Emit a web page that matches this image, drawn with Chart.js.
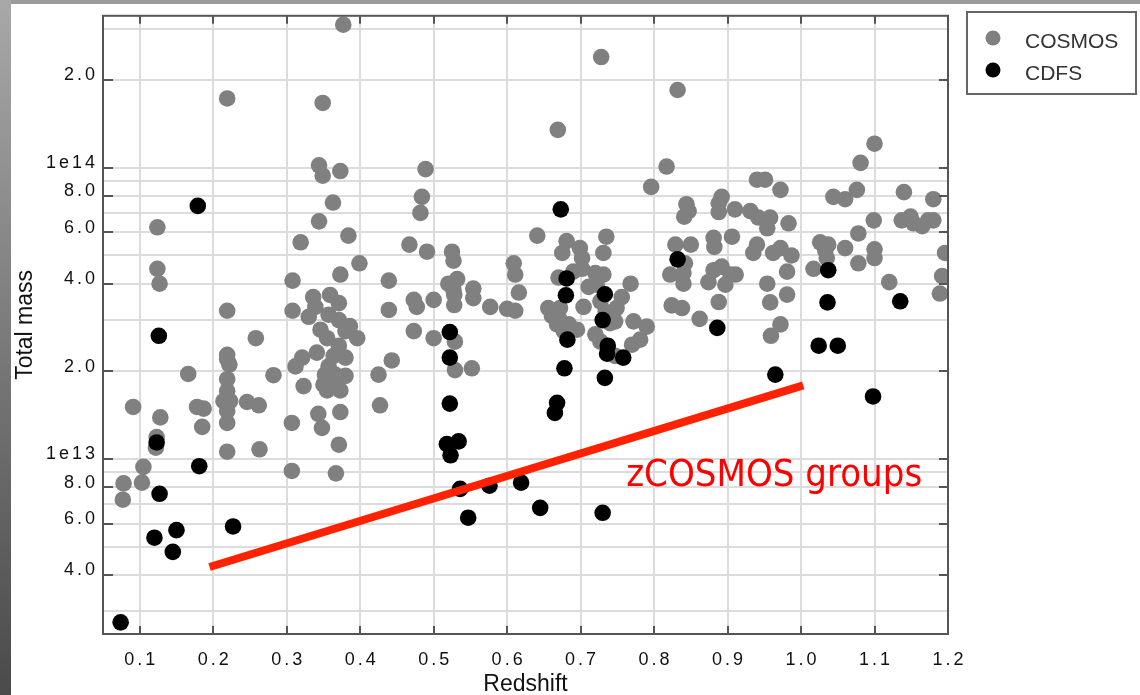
<!DOCTYPE html>
<html><head><meta charset="utf-8">
<script src="https://cdn.jsdelivr.net/npm/chart.js@4/dist/chart.umd.min.js"></script>
<style>html,body{margin:0;padding:0;background:#fff;overflow:hidden}canvas{display:block}</style>
</head><body>
<canvas id="c" width="1140" height="695"></canvas>
<script>
// ---- data (redshift, total mass) ----
const cosmosZ = [0.219,0.124,0.377,0.728,0.349,0.669,0.344,0.349,0.373,0.489,0.363,0.484,0.482,0.344,0.384,0.319,0.467,0.641,0.681,0.735,
0.832,1.100,1.081,0.817,0.796,0.940,0.951,0.972,0.844,0.847,0.841,0.892,0.888,0.888,0.910,0.931,0.942,0.958,0.954,0.983,
1.044,1.060,1.076,1.140,1.180,1.099,1.137,1.149,1.153,1.165,1.173,1.180,1.078,1.060,1.100,1.100,1.078,1.196,1.120,1.192,
1.189,0.829,0.850,0.881,0.882,0.906,0.940,0.731,0.731,0.756,0.747,0.772,0.790,0.781,0.770,0.768,0.842,0.822,0.840,0.840,
0.824,0.838,0.862,0.874,0.881,0.892,0.904,0.897,0.888,0.911,0.935,0.962,0.972,0.987,0.981,0.954,0.981,0.958,0.972,0.959,
1.026,1.033,1.017,1.035,1.037,0.491,0.525,0.527,0.675,0.699,0.702,0.399,0.373,0.308,0.439,0.520,0.532,0.527,0.554,0.554,
0.609,0.611,0.616,0.577,0.600,0.611,0.500,0.473,0.477,0.439,0.528,0.528,0.308,0.336,0.359,0.371,0.339,0.330,0.357,0.371,
0.386,0.396,0.380,0.346,0.355,0.371,0.380,0.364,0.341,0.321,0.312,0.357,0.352,0.366,0.380,0.350,0.368,0.355,0.373,0.323,
0.425,0.443,0.473,0.500,0.529,0.529,0.552,0.307,0.343,0.348,0.373,0.427,0.371,0.670,0.656,0.672,0.661,0.672,0.684,0.695,
0.677,0.668,0.704,0.711,0.690,0.702,0.720,0.722,0.727,0.734,0.740,0.749,0.727,0.720,0.747,0.124,0.127,0.219,0.258,0.219,
0.219,0.222,0.166,0.282,0.219,0.219,0.214,0.223,0.219,0.219,0.178,0.187,0.246,0.262,0.091,0.128,0.185,0.123,0.122,0.219,
0.263,0.105,0.307,0.078,0.077,0.103,0.367];
const cosmosMass = [1.73e14,6.25e13,3.1e14,2.4e14,1.67e14,1.35e14,1.02e14,9.4e13,9.75e13,9.9e13,7.6e13,7.95e13,7.0e13,6.55e13,5.85e13,5.55e13,5.45e13,5.85e13,5.6e13,5.8e13,
1.85e14,1.21e14,1.04e14,1.01e14,8.6e13,9.1e13,9.1e13,8.4e13,7.5e13,7.1e13,6.8e13,7.95e13,7.55e13,7.05e13,7.2e13,7.1e13,6.75e13,6.75e13,6.2e13,6.45e13,
7.95e13,7.8e13,8.4e13,8.25e13,7.8e13,6.6e13,6.6e13,6.8e13,6.45e13,6.3e13,6.6e13,6.6e13,5.95e13,5.3e13,5.25e13,4.9e13,4.7e13,5.1e13,4.05e13,4.25e13,
3.7e13,5.45e13,5.45e13,5.75e13,5.35e13,5.8e13,5.45e13,5.1e13,4.3e13,3.6e13,2.97e13,2.97e13,2.85e13,2.57e13,2.47e13,4.0e13,4.7e13,4.3e13,4.35e13,4.0e13,
3.37e13,3.3e13,3.03e13,4.05e13,4.45e13,4.58e13,4.3e13,3.97e13,3.46e13,4.3e13,5.1e13,5.1e13,5.3e13,5.0e13,4.4e13,4.0e13,3.67e13,3.45e13,2.9e13,2.65e13,
5.55e13,5.2e13,4.5e13,4.9e13,5.45e13,5.15e13,5.15e13,4.8e13,5.1e13,5.3e13,4.9e13,4.7e13,4.3e13,4.1e13,4.1e13,4.0e13,4.15e13,3.8e13,3.85e13,3.57e13,
4.7e13,4.3e13,3.73e13,3.33e13,3.28e13,3.23e13,3.52e13,3.52e13,3.33e13,3.25e13,3.66e13,3.38e13,3.23e13,3.6e13,3.66e13,3.43e13,3.33e13,3.08e13,3.13e13,3.0e13,
2.86e13,2.6e13,2.75e13,2.78e13,2.6e13,2.45e13,2.23e13,2.26e13,2.32e13,2.23e13,2.08e13,2.08e13,1.95e13,1.95e13,1.93e13,1.8e13,1.8e13,1.72e13,1.72e13,1.78e13,
1.95e13,2.18e13,2.75e13,2.6e13,2.53e13,2.02e13,2.05e13,1.33e13,1.43e13,1.28e13,1.45e13,1.53e13,1.12e13,4.2e13,3.3e13,3.3e13,3.1e13,3.0e13,2.9e13,2.78e13,
2.75e13,2.9e13,3.33e13,3.9e13,4.4e13,4.5e13,4.35e13,3.97e13,3.48e13,3.2e13,2.93e13,3.3e13,2.53e13,2.68e13,2.26e13,4.5e13,4.0e13,3.23e13,2.6e13,2.28e13,
2.2e13,2.11e13,1.96e13,1.94e13,1.88e13,1.71e13,1.58e13,1.58e13,1.46e13,1.33e13,1.51e13,1.49e13,1.57e13,1.53e13,1.51e13,1.39e13,1.29e13,1.19e13,1.095e13,1.06e13,
1.08e13,9.4e12,9.1e12,8.25e12,7.25e12,8.3e12,8.93e12];

const cdfsZ = [0.179,0.673,0.733,0.730,0.737,0.736,0.758,0.733,0.832,0.886,0.965,1.037,1.036,1.135,1.024,1.050,1.098,0.126,0.123,0.181,
0.127,0.120,0.150,0.145,0.227,0.074,0.522,0.522,0.522,0.518,0.534,0.523,0.681,0.680,0.682,0.678,0.668,0.665,0.536,0.576,
0.619,0.547,0.645,0.730];
const cdfsMass = [7.4e13,7.2e13,3.68e13,3.0e13,2.45e13,2.3e13,2.23e13,1.9e13,4.85e13,2.82e13,1.95e13,4.45e13,3.45e13,3.48e13,2.45e13,2.45e13,1.64e13,2.65e13,1.14e13,9.45e12,
7.6e12,5.37e12,5.7e12,4.8e12,5.87e12,2.75e12,2.73e13,2.23e13,1.55e13,1.125e13,1.15e13,1.03e13,4.17e13,3.65e13,2.57e13,2.05e13,1.56e13,1.44e13,7.9e12,8.1e12,
8.3e12,6.29e12,6.8e12,6.54e12];

// hand-drawn "zCOSMOS groups" line (end points) and label anchor
const groupLineZ = [0.195, 1.003];
const groupLineMass = [4.26e12, 1.79e13];
const groupLabel = 'zCOSMOS groups';
const groupLabelAt = [0.762, 8.1e12];

// axes
const xTickValues = [0.1,0.2,0.3,0.4,0.5,0.6,0.7,0.8,0.9,1.0,1.1,1.2];
const yTickValues = [3e12,4e12,5e12,6e12,7e12,8e12,9e12,1e13,2e13,3e13,4e13,5e13,6e13,7e13,8e13,9e13,1e14,2e14,3e14];
const yTickLabels = ['','4.0','','6.0','','8.0','','1e13','2.0','','4.0','','6.0','','8.0','','1e14','2.0',''];
const xTitle = 'Redshift';
const yTitle = 'Total mass';

const FRAME = '#555555';
const deco = {
  id: 'deco',
  beforeDraw(chart) {
    const ctx = chart.ctx;
    ctx.save();
    const g = ctx.createLinearGradient(0, 0, 0, chart.height);
    g.addColorStop(0, '#a8a8a8'); g.addColorStop(1, '#4a4a4a');
    ctx.fillStyle = '#9c9c9c'; ctx.fillRect(0, 0, chart.width, 4);
    ctx.fillStyle = g; ctx.fillRect(0, 0, 11, chart.height);
    ctx.fillStyle = '#ffffff'; ctx.fillRect(11, 4, chart.width - 11, chart.height - 4);
    ctx.restore();
    ctx.letterSpacing = '0px';
  },
  afterDatasetsDraw(chart) {
    const ctx = chart.ctx, a = chart.chartArea, xs = chart.scales.x, ys = chart.scales.y;
    ctx.save();
    ctx.letterSpacing = '0px';
    // red annotation text
    ctx.fillStyle = '#ff0000';
    ctx.font = '38px "DejaVu Sans"';
    ctx.textBaseline = 'alphabetic';
    ctx.textAlign = 'left';
    ctx.fillText(groupLabel, xs.getPixelForValue(groupLabelAt[0]), ys.getPixelForValue(groupLabelAt[1]), 296);
    // frame
    ctx.strokeStyle = FRAME; ctx.lineWidth = 2;
    ctx.strokeRect(a.left, a.top, a.right - a.left, a.bottom - a.top);
    ctx.beginPath();
    xTickValues.forEach(v => {
      const p = Math.round(xs.getPixelForValue(v));
      ctx.moveTo(p, a.top); ctx.lineTo(p, a.top + 8);
      ctx.moveTo(p, a.bottom); ctx.lineTo(p, a.bottom - 8);
    });
    yTickValues.forEach((v, i) => {
      if (!yTickLabels[i]) return;
      const p = Math.round(ys.getPixelForValue(v));
      ctx.moveTo(a.left, p); ctx.lineTo(a.left + 10, p);
      ctx.moveTo(a.right, p); ctx.lineTo(a.right - 9, p);
    });
    ctx.stroke();
    ctx.restore();
    ctx.letterSpacing = '3px';
  },
  afterDraw(chart) {
    const ctx = chart.ctx;
    ctx.letterSpacing = '0px';
    ctx.save();
    ctx.strokeStyle = '#666666'; ctx.lineWidth = 2;
    ctx.strokeRect(967, 12, 169, 82);
    const items = chart.data.datasets.filter(d => d.legendItem);
    items.forEach((d, i) => {
      const cy = 38 + i * 32;
      ctx.fillStyle = d.backgroundColor;
      ctx.beginPath(); ctx.arc(993, cy, 7.5, 0, Math.PI * 2); ctx.fill();
      ctx.fillStyle = '#333333';
      ctx.font = '21px "Liberation Sans"';
      ctx.textBaseline = 'middle'; ctx.textAlign = 'left';
      ctx.fillText(d.label, 1025, cy + 4);
    });
    ctx.restore();
  }
};

const toPts = (zs, ms) => zs.map((z, i) => ({x: z, y: ms[i]}));
const tickFont = {family: 'Liberation Sans', size: 18};
const titleFont = {family: 'Liberation Sans', size: 23, lineHeight: 0.9};

new Chart(document.getElementById('c'), {
  type: 'scatter',
  data: {
    datasets: [
      {label: groupLabel, type: 'line', data: toPts(groupLineZ, groupLineMass), borderColor: '#ff2200',
       borderWidth: 8, borderCapStyle: 'butt', pointRadius: 0, fill: false, order: 0},
      {label: 'COSMOS', legendItem: true, data: toPts(cosmosZ, cosmosMass), backgroundColor: '#808080',
       pointRadius: 8.3, borderWidth: 0, order: 2},
      {label: 'CDFS', legendItem: true, data: toPts(cdfsZ, cdfsMass), backgroundColor: '#000000',
       pointRadius: 8.3, borderWidth: 0, order: 1}
    ]
  },
  options: {
    responsive: false, animation: false, events: [],
    layout: {padding: {left: 0, top: 13, right: 192, bottom: 0}},
    plugins: {legend: {display: false}, tooltip: {enabled: false}},
    scales: {
      x: {
        type: 'linear', min: 0.05, max: 1.2,
        afterBuildTicks: s => { s.ticks = xTickValues.map(v => ({value: v})); },
        afterFit: s => { s.height = 61; },
        grid: {color: '#dcdcdc', lineWidth: 2, drawTicks: false},
        border: {display: false},
        ticks: {z: 1, autoSkip: false, maxRotation: 0, padding: 15, labelOffset: 1.5, color: '#111',
                font: tickFont, callback: v => Number(v).toFixed(1)},
        title: {display: true, text: xTitle, color: '#111', font: titleFont, padding: {top: 0, bottom: 0}}
      },
      y: {
        type: 'logarithmic', min: 2.508e12, max: 3.326e14,
        afterBuildTicks: s => { s.ticks = yTickValues.map(v => ({value: v})); },
        afterFit: s => { s.width = 103; },
        grid: {color: '#dcdcdc', lineWidth: 2, drawTicks: false},
        border: {display: false},
        ticks: {z: 1, autoSkip: false, padding: 5, labelOffset: -4.7, color: '#111',
                font: tickFont, callback: (v, i) => yTickLabels[i]},
        title: {display: true, text: yTitle, color: '#111', font: titleFont, padding: {top: 15, bottom: 0}}
      }
    }
  },
  plugins: [deco]
});
</script>
</body></html>
